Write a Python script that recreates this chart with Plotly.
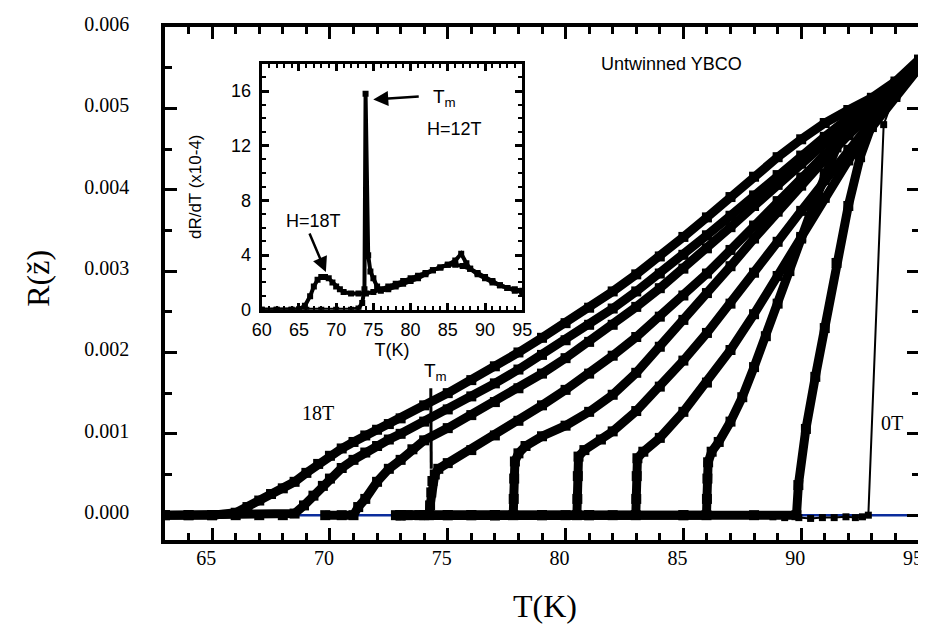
import plotly.graph_objects as go

# ---------------- main panel data: R (ohm) vs T (K) ----------------
T_18T = [63.0, 64.0, 65.0, 66.0, 66.5, 67.0, 67.5, 68.0, 68.5, 69.0, 69.5, 70.0, 70.5, 71.0, 71.5, 72.0, 72.5, 73.0,
         74.0, 75.0, 76.0, 77.0, 78.0, 79.0, 80.0, 81.0, 82.0, 83.0, 84.0, 85.0, 86.0, 87.0, 88.0, 89.0, 90.0,
         91.0, 92.0, 93.0, 94.0, 95.0]
R_18T = [0, 0, 0, 0.00003, 0.0001, 0.00018, 0.00026, 0.00033, 0.00041, 0.00052, 0.00063, 0.00073, 0.00082, 0.0009,
         0.00098, 0.00105, 0.00112, 0.00119, 0.00135, 0.0015, 0.00166, 0.00183, 0.002, 0.00218, 0.00236, 0.00255,
         0.00275, 0.00296, 0.00318, 0.00342, 0.00366, 0.00391, 0.00416, 0.0044, 0.00462, 0.00482, 0.00498, 0.00513,
         0.00533, 0.0056]

T_16T = [63.0, 64.0, 65.0, 66.0, 67.0, 68.0, 68.5, 68.9, 69.3, 69.7, 70.0, 70.5, 71.0, 71.5, 72.0, 72.5, 73.0, 74.0,
         75.0, 76.0, 77.0, 78.0, 79.0, 80.0, 81.0, 82.0, 83.0, 84.0, 85.0, 86.0, 87.0, 88.0, 89.0, 90.0, 91.0,
         92.0, 93.0, 94.0, 95.0]
R_16T = [0, 0, 0, 0, 0, 0, 0.00002, 0.00012, 0.00024, 0.00036, 0.00045, 0.00058, 0.00068, 0.00077, 0.00085, 0.00093,
         0.001, 0.00115, 0.0013, 0.00146, 0.00162, 0.00179, 0.00197, 0.00215, 0.00234, 0.00254, 0.00275, 0.00297,
         0.0032, 0.00344, 0.00368, 0.00393, 0.00418, 0.00442, 0.00465, 0.00488, 0.0051, 0.0053, 0.0055]

T_14T = [69.8, 70.5, 71.0, 71.2, 71.5, 72.0, 72.5, 73.0, 73.5, 74.0, 75.0, 76.0, 77.0, 78.0, 79.0, 80.0, 81.0, 82.0,
         83.0, 84.0, 85.0, 86.0, 87.0, 88.0, 89.0, 90.0, 91.0, 92.0, 93.0, 94.0, 95.0]
R_14T = [0, 0, 0, 0.0001, 0.0002, 0.00041, 0.00057, 0.00068, 0.00081, 0.00092, 0.00107, 0.00123, 0.00139, 0.00156,
         0.00174, 0.00193, 0.00213, 0.00234, 0.00256, 0.00279, 0.00303, 0.00328, 0.00354, 0.0038, 0.00406, 0.00432,
         0.00457, 0.0048, 0.00502, 0.00525, 0.0055]

T_12T = [72.8, 73.3, 73.8, 74.2, 74.25, 74.3, 74.35, 74.45, 74.6, 75.0, 76.0, 77.0, 78.0, 79.0, 80.0, 81.0, 82.0,
         83.0, 84.0, 85.0, 86.0, 87.0, 88.0, 89.0, 90.0, 91.0, 92.0, 93.0, 94.0, 95.0]
R_12T = [0, 0, 0, 0, 0.00012, 0.00028, 0.00042, 0.0005, 0.00057, 0.00064, 0.0008, 0.00098, 0.00116, 0.00135, 0.00154,
         0.00174, 0.00196, 0.00219, 0.00244, 0.0027, 0.00297, 0.00326, 0.00356, 0.00386, 0.00415, 0.00443, 0.0047,
         0.00496, 0.0052, 0.0055]

T_10T = [73.0, 74.0, 75.0, 76.0, 77.0, 77.78, 77.8, 77.82, 77.85, 78.0, 78.3, 79.0, 80.0, 81.0, 82.0, 83.0, 84.0,
         85.0, 86.0, 87.0, 88.0, 89.0, 90.0, 91.0, 92.0, 93.0, 94.0, 95.0]
R_10T = [0, 0, 0, 0, 0, 0, 0.0002, 0.00045, 0.00066, 0.00076, 0.00085, 0.00097, 0.0011, 0.00127, 0.00148, 0.00175,
         0.00207, 0.0024, 0.00273, 0.00306, 0.0034, 0.00373, 0.00405, 0.00437, 0.00467, 0.00494, 0.0052, 0.0055]

T_8T = [73.0, 75.0, 77.0, 79.0, 80.0, 80.48, 80.5, 80.52, 80.55, 80.8, 81.5, 82.0, 83.0, 84.0, 85.0, 86.0, 87.0,
        88.0, 89.0, 90.0, 91.0, 92.0, 93.0, 94.0, 95.0]
R_8T = [0, 0, 0, 0, 0, 0, 0.0002, 0.00048, 0.00072, 0.0008, 0.00093, 0.00103, 0.00128, 0.00158, 0.0019, 0.00224,
        0.0026, 0.00298, 0.00336, 0.00374, 0.00412, 0.00449, 0.00484, 0.00517, 0.0055]

T_6T = [73.0, 76.0, 79.0, 82.0, 82.98, 83.0, 83.02, 83.05, 83.3, 84.0, 85.0, 86.0, 87.0, 88.0, 89.0, 90.0, 91.0,
        92.0, 93.0, 94.0, 95.0]
R_6T = [0, 0, 0, 0, 0, 0.0002, 0.00048, 0.0007, 0.00078, 0.00095, 0.00127, 0.00163, 0.00203, 0.00247, 0.00294,
        0.00342, 0.0039, 0.00436, 0.00477, 0.00514, 0.0055]

T_4T = [73.0, 77.0, 81.0, 85.0, 85.98, 86.0, 86.02, 86.05, 86.2, 86.5, 87.0, 87.5, 88.0, 88.5, 89.0, 89.5, 90.0,
        90.5, 91.0, 91.5, 92.0, 92.5, 93.0, 94.0, 95.0]
R_4T = [0, 0, 0, 0, 0, 0.0002, 0.00045, 0.00065, 0.00078, 0.0009, 0.00115, 0.00145, 0.00182, 0.0022, 0.0026, 0.003,
        0.0034, 0.0038, 0.0042, 0.00452, 0.00478, 0.00495, 0.00505, 0.0052, 0.0055]

T_2T = [73.0, 77.0, 81.0, 85.0, 88.0, 89.8, 89.88, 90.2, 90.6, 91.0, 91.5, 92.0, 92.5, 93.0, 93.5, 94.0, 95.0]
R_2T = [0, 0, 0, 0, 0, 0, 0.00037, 0.00106, 0.0017, 0.0023, 0.0031, 0.0038, 0.0044, 0.0048, 0.005, 0.0052, 0.0055]

T_0T = [88.3, 88.8, 89.3, 89.9, 90.4, 90.9, 91.4, 91.9, 92.3, 92.6, 92.85, 93.5, 94.0, 94.5, 95.0]
R_0T = [0, -0.00002, -0.00003, -0.00003, -0.00004, -0.00003, -0.00003, -0.00002, -0.00003, -0.00002, 0, 0.0048,
        0.0052, 0.0054, 0.0056]

T_zero_line = [68.4, 95.0]
R_zero_line = [0, 0]

# ---------------- inset data: dR/dT (x1e-4) vs T (K) ----------------
Ti_18T = [60, 62, 64, 65, 65.8, 66.5, 67, 67.5, 68, 68.5, 69, 69.5, 70, 70.5, 71, 72, 73, 74, 75, 76, 77, 78, 79,
          80, 81, 82, 83, 84, 85, 86, 86.8, 87.5, 88, 89, 90, 91, 92, 93, 94, 95]
Vi_18T = [0, 0, 0, 0.05, 0.3, 1.0, 1.7, 2.2, 2.4, 2.4, 2.3, 2.0, 1.7, 1.5, 1.3, 1.2, 1.2, 1.2, 1.3, 1.5, 1.7, 1.9,
          2.1, 2.3, 2.5, 2.7, 2.9, 3.1, 3.3, 3.6, 4.1, 3.4, 3.0, 2.6, 2.3, 2.0, 1.8, 1.6, 1.4, 1.3]

Ti_12T = [60, 62, 64, 66, 68, 70, 72, 73, 73.5, 73.8, 73.95, 74.3, 74.6, 75, 75.5, 76, 77, 78, 79, 80, 81, 82, 83,
          84, 85, 86, 87, 88, 89, 90, 91, 92, 93, 94, 95]
Vi_12T = [0, 0, 0, 0, 0, 0, 0, 0.1, 0.5, 1.5, 15.8, 4.0, 2.8, 2.3, 1.7, 1.4, 1.5, 1.7, 1.9, 2.1, 2.3, 2.6, 2.9,
          3.1, 3.3, 3.3, 3.2, 3.0, 2.7, 2.4, 2.1, 1.8, 1.6, 1.5, 1.4]

main_x_ticks = [65, 70, 75, 80, 85, 90, 95]
main_y_ticks = [0.000, 0.001, 0.002, 0.003, 0.004, 0.005, 0.006]
inset_x_ticks = [60, 65, 70, 75, 80, 85, 90, 95]
inset_y_ticks = [0, 4, 8, 12, 16]

SERIF = "Liberation Serif, Times New Roman, serif"
SANS = "Liberation Sans, Arial, sans-serif"

fig = go.Figure()

fig.add_trace(go.Scatter(x=T_zero_line, y=R_zero_line, mode="lines",
                         line=dict(color="#0b2c9c", width=2.5), hoverinfo="skip"))

thick_curves = [(T_18T, R_18T), (T_16T, R_16T), (T_14T, R_14T), (T_12T, R_12T), (T_10T, R_10T),
                (T_8T, R_8T), (T_6T, R_6T), (T_4T, R_4T), (T_2T, R_2T)]
for tx, rx in thick_curves:
    fig.add_trace(go.Scatter(x=tx, y=rx, mode="lines+markers",
                             line=dict(color="black", width=9),
                             marker=dict(symbol="square", size=10, color="black")))

fig.add_trace(go.Scatter(x=T_0T, y=R_0T, mode="lines+markers",
                         line=dict(color="black", width=2),
                         marker=dict(symbol="square", size=7, color="black")))

for tx, vx in [(Ti_18T, Vi_18T), (Ti_12T, Vi_12T)]:
    fig.add_trace(go.Scatter(x=tx, y=vx, mode="lines+markers", xaxis="x2", yaxis="y2",
                             line=dict(color="black", width=4),
                             marker=dict(symbol="square", size=6, color="black")))

# the page adds a vertical offset of about 8 px, so the figure is 8 px shorter
fig.update_layout(
    width=926, height=618,
    margin=dict(l=157, r=5, t=15, b=86),
    paper_bgcolor="white", plot_bgcolor="white",
    showlegend=False,
    xaxis=dict(range=[63, 95], tickvals=main_x_ticks, ticks="inside", ticklen=12, tickwidth=3,
               tickcolor="black", showline=True, linewidth=3.5, linecolor="black", mirror="allticks",
               showgrid=False, zeroline=False, ticklabelstandoff=-3, ticklabelshift=-6,
               tickfont=dict(family=SERIF, size=20, color="black"),
               minor=dict(dtick=1, ticks="inside", ticklen=7, tickwidth=2.5, tickcolor="black", showgrid=False)),
    yaxis=dict(range=[-0.000305, 0.006], tickvals=main_y_ticks, tickformat=".3f", ticks="inside", ticklen=12,
               tickwidth=3, tickcolor="black", showline=True, linewidth=3.5, linecolor="black",
               mirror="allticks", showgrid=False, zeroline=False, ticklabelstandoff=28, ticklabelshift=-3,
               tickfont=dict(family=SERIF, size=20, color="black"),
               minor=dict(dtick=0.0005, tick0=0, ticks="inside", ticklen=7, tickwidth=2.5, tickcolor="black",
                          showgrid=False)),
    xaxis2=dict(domain=[0.1283, 0.4738], anchor="y2", range=[60, 95], tickvals=inset_x_ticks, ticks="inside",
                ticklen=7, tickwidth=2.5, tickcolor="black", showline=True, linewidth=3, linecolor="black",
                mirror="allticks", showgrid=False, zeroline=False, ticklabelstandoff=2,
                tickfont=dict(family=SANS, size=18, color="black"),
                title=dict(text="T(K)", font=dict(family=SANS, size=18, color="black"), standoff=2),
                minor=dict(dtick=1, ticks="inside", ticklen=4, tickwidth=2, tickcolor="black", showgrid=False)),
    yaxis2=dict(domain=[0.4487, 0.9284], anchor="x2", range=[0, 18], tickvals=inset_y_ticks, ticks="inside",
                ticklen=7, tickwidth=2.5, tickcolor="black", showline=True, linewidth=3, linecolor="black",
                mirror="allticks", showgrid=False, zeroline=False, ticklabelstandoff=4,
                tickfont=dict(family=SANS, size=18, color="black"),
                title=dict(text="dR/dT (x10-4)", font=dict(family=SANS, size=17, color="black"), standoff=26),
                minor=dict(dtick=1, ticks="inside", ticklen=4, tickwidth=2, tickcolor="black", showgrid=False)),
)

ann = []
ann.append(dict(xref="paper", yref="paper", x=-0.1688, y=0.5106, text="R(ž)", textangle=-90, showarrow=False,
                xanchor="center", yanchor="middle", font=dict(family=SERIF, size=32, color="black")))
ann.append(dict(xref="paper", yref="paper", x=0.504, y=-0.1277, text="T(K)", showarrow=False,
                xanchor="center", yanchor="middle", font=dict(family=SERIF, size=32, color="black")))
ann.append(dict(xref="x", yref="y", x=84.5, y=0.00555, text="Untwinned YBCO", showarrow=False,
                font=dict(family=SANS, size=18, color="black")))
ann.append(dict(xref="x", yref="y", x=69.5, y=0.001256, text="18T", showarrow=False,
                font=dict(family=SERIF, size=20, color="black")))
ann.append(dict(xref="x", yref="y", x=93.86, y=0.00113, text="0T", showarrow=False,
                font=dict(family=SERIF, size=20, color="black")))
ann.append(dict(xref="x", yref="y", x=74.49, y=0.00176, text="T<sub>m</sub>", showarrow=False,
                font=dict(family=SANS, size=19, color="black")))
# inset annotations
ann.append(dict(xref="x2", yref="y2", x=84.53, y=15.46, text="T<sub>m</sub>", showarrow=False,
                font=dict(family=SANS, size=19, color="black")))
ann.append(dict(xref="x2", yref="y2", x=74.98, y=15.39, text="", showarrow=True, ax=47, ay=-3,
                arrowhead=2, arrowsize=1.2, arrowwidth=2.5, arrowcolor="black"))
ann.append(dict(xref="x2", yref="y2", x=85.85, y=13.21, text="H=12T", showarrow=False,
                font=dict(family=SANS, size=18, color="black")))
ann.append(dict(xref="x2", yref="y2", x=66.9, y=6.53, text="H=18T", showarrow=False,
                font=dict(family=SANS, size=18, color="black")))
ann.append(dict(xref="x2", yref="y2", x=68.62, y=2.76, text="", showarrow=True, ax=-17, ay=-40,
                arrowhead=2, arrowsize=1.2, arrowwidth=2.5, arrowcolor="black"))
fig.update_layout(annotations=ann)

fig.add_shape(type="line", xref="x", yref="y", x0=74.28, y0=0.00156, x1=74.3, y1=0.00057,
              line=dict(color="black", width=3))

fig.write_html("out.html")
